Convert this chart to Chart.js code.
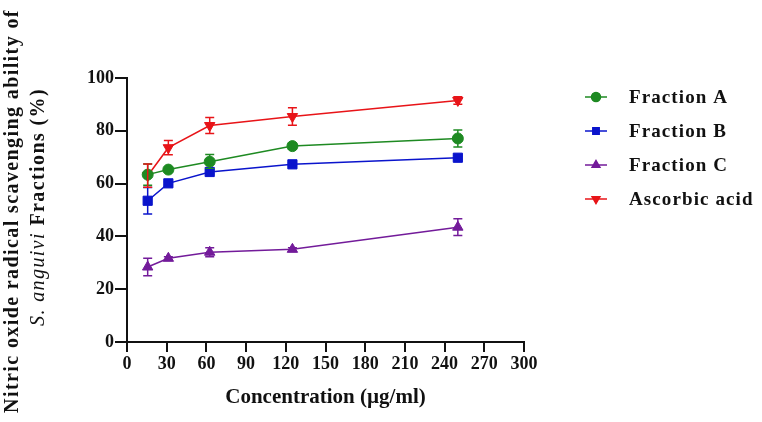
<!DOCTYPE html>
<html>
<head>
<meta charset="utf-8">
<script src="https://cdn.jsdelivr.net/npm/chart.js@4"></script>
<style>
  body { margin: 0; background: #fff; }
  #wrap { width: 762px; height: 422px; }
</style>
</head>
<body>
<div id="wrap"><canvas id="myChart"></canvas></div>
<script>
// concentrations in µg/ml
const concentrations = [15.625, 31.25, 62.5, 125, 250];

const fractionA = [63.4, 65.3, 68.3, 74.2, 77.1];
const fractionAErr = [4.0, 0.8, 2.7, 1.2, 3.2];
const fractionB = [53.5, 60.1, 64.4, 67.3, 69.8];
const fractionBErr = [5.0, 0.6, 0.8, 0.6, 0.8];
const fractionC = [28.4, 31.7, 34.0, 35.1, 43.5];
const fractionCErr = [3.3, 0.6, 1.7, 0.6, 3.2];
const ascorbic = [63.0, 73.6, 82.0, 85.4, 91.5];
const ascorbicErr = [4.4, 2.7, 3.0, 3.3, 1.4];

const xTicks = [0, 30, 60, 90, 120, 150, 180, 210, 240, 270, 300];
const yTicks = [0, 20, 40, 60, 80, 100];

const serif = '"Liberation Serif", "DejaVu Serif", serif';

function pts(vals) {
  return vals.map((v, i) => ({ x: concentrations[i], y: v }));
}

const series = [
  { label: 'Fraction A', vals: fractionA, err: fractionAErr, color: '#1e8a22', style: 'circle', rot: 0, r: 5.5 },
  { label: 'Fraction B', vals: fractionB, err: fractionBErr, color: '#0a14cc', style: 'rect', rot: 0, r: 6.5 },
  { label: 'Fraction C', vals: fractionC, err: fractionCErr, color: '#731b9a', style: 'triangle', rot: 0, r: 6 },
  { label: 'Ascorbic acid', vals: ascorbic, err: ascorbicErr, color: '#e81418', style: 'triangle', rot: 180, r: 6 }
];

// error bars drawn through the scales
const errorBars = {
  id: 'errorBars',
  afterDatasetsDraw(chart) {
    const c = chart.ctx, xs = chart.scales.x, ys = chart.scales.y;
    c.save();
    series.forEach(s => {
      c.strokeStyle = s.color;
      c.lineWidth = 1.5;
      s.vals.forEach((v, i) => {
        const x = xs.getPixelForValue(concentrations[i]);
        const yt = ys.getPixelForValue(v + s.err[i]);
        const yb = ys.getPixelForValue(v - s.err[i]);
        c.beginPath();
        c.moveTo(x, yt); c.lineTo(x, yb);
        c.moveTo(x - 4.5, yt); c.lineTo(x + 4.5, yt);
        c.moveTo(x - 4.5, yb); c.lineTo(x + 4.5, yb);
        c.stroke();
      });
    });
    c.restore();
  }
};

// legend and rotated y title
const extras = {
  id: 'extras',
  afterDraw(chart) {
    const c = chart.ctx;
    c.save();
    // legend
    series.forEach((s, i) => {
      const y = 97 + i * 34;
      c.strokeStyle = s.color;
      c.lineWidth = 1.5;
      c.beginPath(); c.moveTo(585, y); c.lineTo(607, y); c.stroke();
      Chart.helpers.drawPoint(c, { pointStyle: s.style, rotation: s.rot, radius: 4.5, borderWidth: 1 }, 596, y);
      c.fillStyle = s.color;
      c.fill();
      c.fillStyle = '#111';
      c.font = 'bold 19px ' + serif;
      c.letterSpacing = '1.1px';
      c.textBaseline = 'middle';
      c.textAlign = 'left';
      c.fillText(s.label, 629, y + 1);
    });
    // y title
    c.rotate(-Math.PI / 2);
    c.fillStyle = '#111';
    c.textBaseline = 'middle';
    c.textAlign = 'center';
    c.letterSpacing = '1.4px';
    c.font = 'bold 20px ' + serif;
    c.fillText('Nitric oxide radical scavenging ability of', -211, 13);
    const p1 = 'S. anguivi ', p2 = 'Fractions (%)';
    c.font = 'italic 20px ' + serif;
    const w1 = c.measureText(p1).width;
    c.font = 'bold 20px ' + serif;
    const w2 = c.measureText(p2).width;
    const start = -207 - (w1 + w2) / 2;
    c.textAlign = 'left';
    c.font = 'italic 20px ' + serif;
    c.fillText(p1, start, 39);
    c.font = 'bold 20px ' + serif;
    c.fillText(p2, start + w1, 39);
    c.restore();
  }
};

new Chart(document.getElementById('myChart'), {
  type: 'line',
  data: {
    datasets: series.map(s => ({
      label: s.label,
      data: pts(s.vals),
      borderColor: s.color,
      backgroundColor: s.color,
      borderWidth: 1.5,
      pointStyle: s.style,
      rotation: s.rot,
      pointRadius: s.r,
      pointHoverRadius: s.r,
      pointBorderWidth: 1,
      tension: 0
    }))
  },
  options: {
    responsive: true,
    maintainAspectRatio: false,
    animation: false,
    layout: { padding: { top: 78, right: 238, left: 0, bottom: 0 } },
    plugins: { legend: { display: false }, tooltip: { enabled: false } },
    scales: {
      x: {
        type: 'linear',
        min: 0, max: 300,
        afterBuildTicks: s => { s.ticks = xTicks.map(v => ({ value: v })); },
        afterFit: s => { s.height = 80; },
        border: { color: '#111', width: 2 },
        grid: { drawOnChartArea: false, color: '#111', lineWidth: 2, tickLength: 10 },
        ticks: { color: '#111', font: { family: serif, size: 18, weight: 'bold' }, padding: 2, maxRotation: 0 },
        title: { display: true, text: 'Concentration (µg/ml)', color: '#111', font: { family: serif, size: 21, weight: 'bold' }, padding: { top: 6, bottom: 12 } }
      },
      y: {
        min: 0, max: 100,
        afterBuildTicks: s => { s.ticks = yTicks.map(v => ({ value: v })); },
        afterFit: s => { s.width = 127; },
        border: { color: '#111', width: 2 },
        grid: { drawOnChartArea: false, color: '#111', lineWidth: 2, tickLength: 12 },
        ticks: { color: '#111', font: { family: serif, size: 18, weight: 'bold' }, padding: 1 }
      }
    }
  },
  plugins: [errorBars, extras]
});
</script>
</body>
</html>
